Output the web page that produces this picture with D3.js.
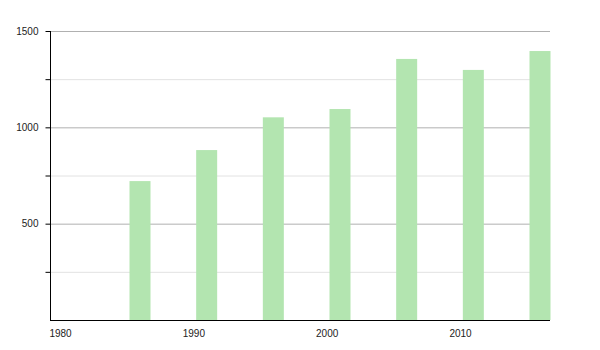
<!DOCTYPE html>
<html lang="en">
<head>
    <meta charset="UTF-8">
    <title>Bars by year</title>
    <script src="https://d3js.org/d3.v7.min.js"></script>
    <style>
        body { margin: 0; background: #fff; }
        text { font-family: "Liberation Sans", Arial, sans-serif; }
    </style>
</head>
<body>
    <svg id="chart"></svg>

    <script>
        // Data
        const years = [1986, 1991, 1996, 2001, 2006, 2011, 2016];
        const values = [721, 882, 1052, 1095, 1355, 1298, 1396];
        const xTicks = [1980, 1990, 2000, 2010];
        const yMajorTicks = [500, 1000, 1500];
        const yMinorTicks = [250, 750, 1250];

        const width = 600, height = 350;
        const plotLeft = 50, plotRight = 550, plotTop = 31, plotBottom = 320;
        const barWidth = 21;

        const svg = d3.select("#chart")
            .attr("width", width)
            .attr("height", height);

        // x: years, padded by half a bar on each side
        const x = d3.scaleLinear()
            .domain([1980, 2016])
            .range([plotLeft + 10, plotRight - 10]);

        const y = d3.scaleLinear()
            .domain([0, 1500])
            .range([plotBottom, plotTop]);

        // minor grid lines
        svg.append("g")
            .selectAll("line")
            .data(yMinorTicks)
            .join("line")
            .attr("x1", plotLeft)
            .attr("x2", plotRight)
            .attr("y1", d => y(d) + 0.5)
            .attr("y2", d => y(d) + 0.5)
            .attr("stroke", "#e2e2e2");

        // major grid lines
        svg.append("g")
            .selectAll("line")
            .data(yMajorTicks)
            .join("line")
            .attr("x1", plotLeft)
            .attr("x2", plotRight)
            .attr("y1", d => y(d) + 0.5)
            .attr("y2", d => y(d) + 0.5)
            .attr("stroke", "#b0b0b0");

        // bars
        svg.append("g")
            .selectAll("rect")
            .data(years)
            .join("rect")
            .attr("x", d => x(d) - barWidth / 2)
            .attr("width", barWidth)
            .attr("y", (d, i) => y(values[i]))
            .attr("height", (d, i) => plotBottom - y(values[i]))
            .attr("fill", "#b3e5b0");

        // y axis
        const yAxis = d3.axisLeft(y)
            .tickValues(yMajorTicks.concat(yMinorTicks))
            .tickSize(5)
            .tickPadding(7)
            .tickFormat(d => yMajorTicks.includes(d) ? d : "");

        const gy = svg.append("g")
            .attr("transform", `translate(${plotLeft + 0.5},0)`)
            .call(yAxis);
        gy.select(".domain").remove();
        gy.append("line")
            .attr("y1", plotTop)
            .attr("y2", plotBottom + 1)
            .attr("stroke", "#000");
        gy.selectAll("text")
            .attr("font-size", 10)
            .attr("fill", "#222");

        // x axis
        const xAxis = d3.axisBottom(x)
            .tickValues(xTicks)
            .tickSize(0)
            .tickPadding(9)
            .tickFormat(d3.format("d"));

        const gx = svg.append("g")
            .attr("transform", `translate(0,${plotBottom + 0.5})`)
            .call(xAxis);
        gx.select(".domain").remove();
        gx.append("line")
            .attr("x1", plotLeft)
            .attr("x2", plotRight)
            .attr("stroke", "#000");
        gx.selectAll("text")
            .attr("font-size", 10)
            .attr("fill", "#222");
    </script>
</body>
</html>
